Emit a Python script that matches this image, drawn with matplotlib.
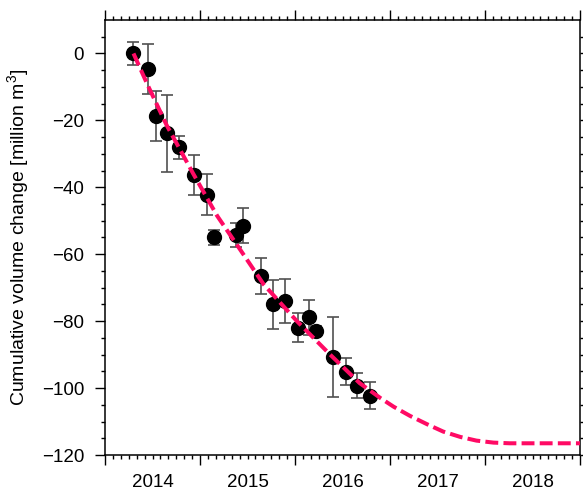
import numpy as np
import matplotlib
matplotlib.use("Agg")
import matplotlib.pyplot as plt
from matplotlib.ticker import FixedLocator, FuncFormatter

plt.rcParams['font.family'] = ['Liberation Sans', 'DejaVu Sans']
plt.rcParams['mathtext.default'] = 'regular'

# observations (decimal year, million m3, error)
obs_time = [2014.295, 2014.456, 2014.537, 2014.649, 2014.782, 2014.937, 2015.071,
            2015.147, 2015.379, 2015.449, 2015.639, 2015.765, 2015.898, 2016.032,
            2016.151, 2016.221, 2016.397, 2016.537, 2016.649, 2016.789]
obs_vol = [0.0, -4.6, -18.7, -23.9, -28.0, -36.3, -42.2, -55.0, -54.3, -51.5,
           -66.5, -75.0, -73.9, -81.9, -78.9, -82.9, -90.8, -95.1, -99.3, -102.3]
obs_err = [3.3, 7.4, 7.5, 11.4, 3.4, 6.1, 6.1, 2.2, 3.6, 5.2,
           5.3, 7.3, 6.6, 4.3, 5.2, 1.5, 12.0, 4.1, 3.7, 4.0]

# model curve
fit_time = [2014.30, 2014.45, 2014.65, 2014.93, 2015.18, 2015.42, 2015.67, 2016.02,
            2016.37, 2016.68, 2016.90, 2017.04, 2017.21, 2017.39, 2017.56, 2017.74,
            2017.91, 2018.09, 2018.26, 2019.00]
fit_vol = [0.0, -9.5, -21.5, -36.0, -48.5, -58.5, -69.0, -80.0,
           -90.0, -98.5, -103.0, -105.6, -108.3, -110.8, -113.0, -114.6,
           -115.7, -116.3, -116.5, -116.5]

years = [2014, 2015, 2016, 2017, 2018, 2019]
year_labels = ['2014', '2015', '2016', '2017', '2018']

fig = plt.figure(figsize=(5.83, 4.9), dpi=100)
ax = fig.add_axes([105/583, 35/490, 475/583, 435/490])

ax.errorbar(obs_time, obs_vol, yerr=obs_err, fmt='none', ecolor='#505050',
            elinewidth=1.2, capsize=4.5, capthick=1.2, zorder=2)
ax.plot(obs_time, obs_vol, 'o', color='black', markersize=10, zorder=3)
ax.plot(fit_time, fit_vol, color='#ff0a64', lw=2.9, linestyle=(0, (3.2, 1.3)),
        dash_capstyle='butt', zorder=4)

ax.set_xlim(years[0], years[-1])
ax.set_ylim(-120, 10)

# x: year boundaries as major ticks, months as minor, labels mid-year
ax.xaxis.set_major_locator(FixedLocator(years))
ax.xaxis.set_major_formatter(FuncFormatter(lambda x, p: ''))
months = [years[0] + k / 12 for k in range(12 * (len(years) - 1) + 1)]
ax.xaxis.set_minor_locator(FixedLocator(months))
mid = {y + 0.5: lab for y, lab in zip(years, year_labels)}


def minor_fmt(x, p):
    for m, lab in mid.items():
        if abs(x - m) < 1e-6:
            return lab
    return ''


ax.xaxis.set_minor_formatter(FuncFormatter(minor_fmt))

ax.set_yticks(np.arange(-120, 1, 20))
ax.yaxis.set_minor_locator(FixedLocator(np.arange(-120, 10, 5)))

ax.tick_params(which='both', direction='out', top=True, right=True, width=1.0,
               labelsize=13.5, color='black')
ax.tick_params(which='major', length=7, pad=8)
ax.tick_params(which='minor', length=3)
ax.tick_params(axis='x', which='minor', pad=11)

for s in ax.spines.values():
    s.set_linewidth(1.1)

ax.set_ylabel('Cumulative volume change [million m$^3$]', fontsize=14)
ax.yaxis.set_label_coords(-0.155, 0.5)

fig.savefig('out.png', dpi=100)
